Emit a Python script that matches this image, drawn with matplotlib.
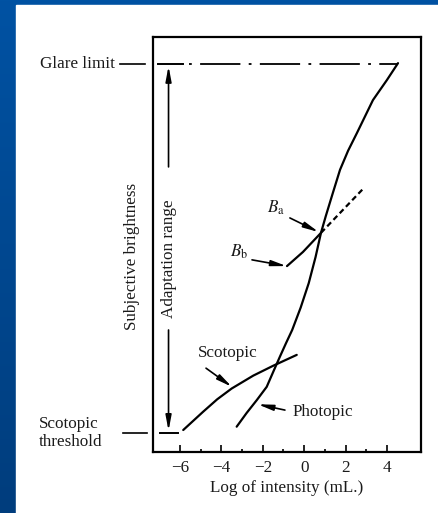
import numpy as np
import matplotlib
matplotlib.use("Agg")
import matplotlib.pyplot as plt
from matplotlib.patches import Rectangle

plt.rcParams['font.family'] = ['Liberation Serif', 'DejaVu Serif']
plt.rcParams['mathtext.fontset'] = 'stix'
plt.rcParams['lines.scale_dashes'] = False

# ---- data ----
photopic_x = [-3.26, -2.78, -2.29, -1.81, -1.47, -1.17, -0.88, -0.58, -0.17, 0.22, 0.55,
              0.81, 1.04, 1.37, 1.73, 2.12, 2.55, 3.32, 3.99, 4.53]
photopic_y = [0.61, 0.94, 1.25, 1.57, 1.96, 2.30, 2.62, 2.94, 3.48, 4.07, 4.70,
              5.28, 5.68, 6.22, 6.80, 7.26, 7.69, 8.48, 8.96, 9.37]

scotopic_x = [-5.84, -4.88, -4.20, -3.50, -2.46, -1.49, -0.36]
scotopic_y = [0.53, 0.97, 1.27, 1.53, 1.84, 2.08, 2.34]

bb_x = [-0.83, -0.06, 0.81]
bb_y = [4.48, 4.82, 5.28]

bb_dash_x = [0.81, 2.84]
bb_dash_y = [5.28, 6.34]

glare_limit = 9.35
scotopic_threshold = 0.46

x_ticks = [-6, -4, -2, 0, 2, 4]
x_minor = [-5, -3, -1, 1, 3]

W, H = 439, 513
fig = plt.figure(figsize=(W / 100, H / 100), dpi=100)

# background gradient (blue frame) and white panel
bg = fig.add_axes([0, 0, 1, 1], zorder=-10)
grad = np.linspace(0, 1, 256).reshape(-1, 1)
c_top = np.array([0x00, 0x52, 0xa3]) / 255
c_bot = np.array([0x00, 0x3d, 0x7d]) / 255
img = c_top[None, None, :] * (1 - grad[:, :, None]) + c_bot[None, None, :] * grad[:, :, None]
bg.imshow(img, aspect='auto', extent=[0, 1, 0, 1], origin='upper')
bg.add_patch(Rectangle((16 / W, 0), 1, (H - 5) / H, color='white', transform=bg.transAxes))
bg.set_axis_off()

ax = fig.add_axes([153 / W, (H - 452) / H, (421 - 153) / W, (452 - 37) / H])
ax.set_xlim(-7.30, 5.64)
ax.set_ylim(0, 10)

txt = '#1a1a1a'
fs = 12.3

ax.plot(photopic_x, photopic_y, color='k', lw=1.6, solid_capstyle='round', solid_joinstyle='round')
ax.plot(scotopic_x, scotopic_y, color='k', lw=1.6, solid_capstyle='round', solid_joinstyle='round')
ax.plot(bb_x, bb_y, color='k', lw=1.6, solid_capstyle='round', solid_joinstyle='round')
ax.plot(bb_dash_x, bb_dash_y, color='k', lw=1.6, ls=(0, (4, 2.5)))

# glare limit dash-dot line
ax.plot([-7.05, -5.85], [glare_limit, glare_limit], color='k', lw=1.4)
ax.plot([-5.55, 4.53], [glare_limit, glare_limit], color='k', lw=1.3,
        ls=(0, (2, 6, 29, 6)))
# scotopic threshold bar
ax.plot([-6.97, -6.10], [scotopic_threshold, scotopic_threshold], color='k', lw=1.4)

# outside marks
ax.plot([-8.9, -7.69], [glare_limit, glare_limit], color='k', lw=1.2, clip_on=False)
ax.plot([-8.75, -7.6], [scotopic_threshold, scotopic_threshold], color='k', lw=1.2, clip_on=False)
ax.text(-9.14, glare_limit, 'Glare limit', ha='right', va='center', fontsize=fs, color=txt, clip_on=False)
ax.text(-12.81, 0.46, 'Scotopic\nthreshold', ha='left', va='center', fontsize=fs, color=txt,
        linespacing=1.1, clip_on=False)
ax.text(-8.32, 4.72, 'Subjective brightness', rotation=90, ha='center', va='center',
        fontsize=fs, color=txt, clip_on=False)

# adaptation range arrow
ax_x = -6.55
ax.text(ax_x, 4.66, 'Adaptation range', rotation=90, ha='center', va='center', fontsize=fs, color=txt)
ap = dict(arrowstyle='-|>,head_length=0.9,head_width=0.17', lw=1.2, color='k', shrinkA=0, shrinkB=0)
ax.annotate('', xy=(ax_x, glare_limit - 0.05), xytext=(ax_x, 6.87), arrowprops=ap)
ax.annotate('', xy=(ax_x, scotopic_threshold + 0.05), xytext=(ax_x, 2.94), arrowprops=ap)

# curve labels
ax.text(-3.68, 2.39, 'Scotopic', ha='center', va='center', fontsize=fs, color=txt)
ax.annotate('', xy=(-3.49, 1.57), xytext=(-4.74, 2.02), arrowprops=ap)
ax.text(-0.54, 0.96, 'Photopic', ha='left', va='center', fontsize=fs, color=txt)
ax.annotate('', xy=(-2.24, 1.15), xytext=(-0.93, 1.01), arrowprops=ap)
ax.text(-1.36, 5.88, r'$B_{\mathrm{a}}$', ha='center', va='center', fontsize=fs, color=txt)
ax.annotate('', xy=(0.70, 5.30), xytext=(-0.69, 5.64), arrowprops=ap)
ax.text(-3.15, 4.82, r'$B_{\mathrm{b}}$', ha='center', va='center', fontsize=fs, color=txt)
ax.annotate('', xy=(-0.85, 4.48), xytext=(-2.52, 4.63), arrowprops=ap)

# axes styling
for s in ax.spines.values():
    s.set_linewidth(1.6)
    s.set_color('k')
ax.set_yticks([])
ax.set_xticks(x_ticks)
ax.set_xticks(x_minor, minor=True)
ax.set_xticklabels([('\u2212' + str(-t)) if t < 0 else str(t) for t in x_ticks],
                   fontsize=fs, color=txt)
ax.tick_params(axis='x', which='major', direction='in', length=5, width=1.2, pad=6)
ax.tick_params(axis='x', which='minor', direction='in', length=2.5, width=1.2)
ax.set_xlabel('Log of intensity (mL.)', fontsize=fs, color=txt, labelpad=3)

fig.savefig('out.png', dpi=100)
